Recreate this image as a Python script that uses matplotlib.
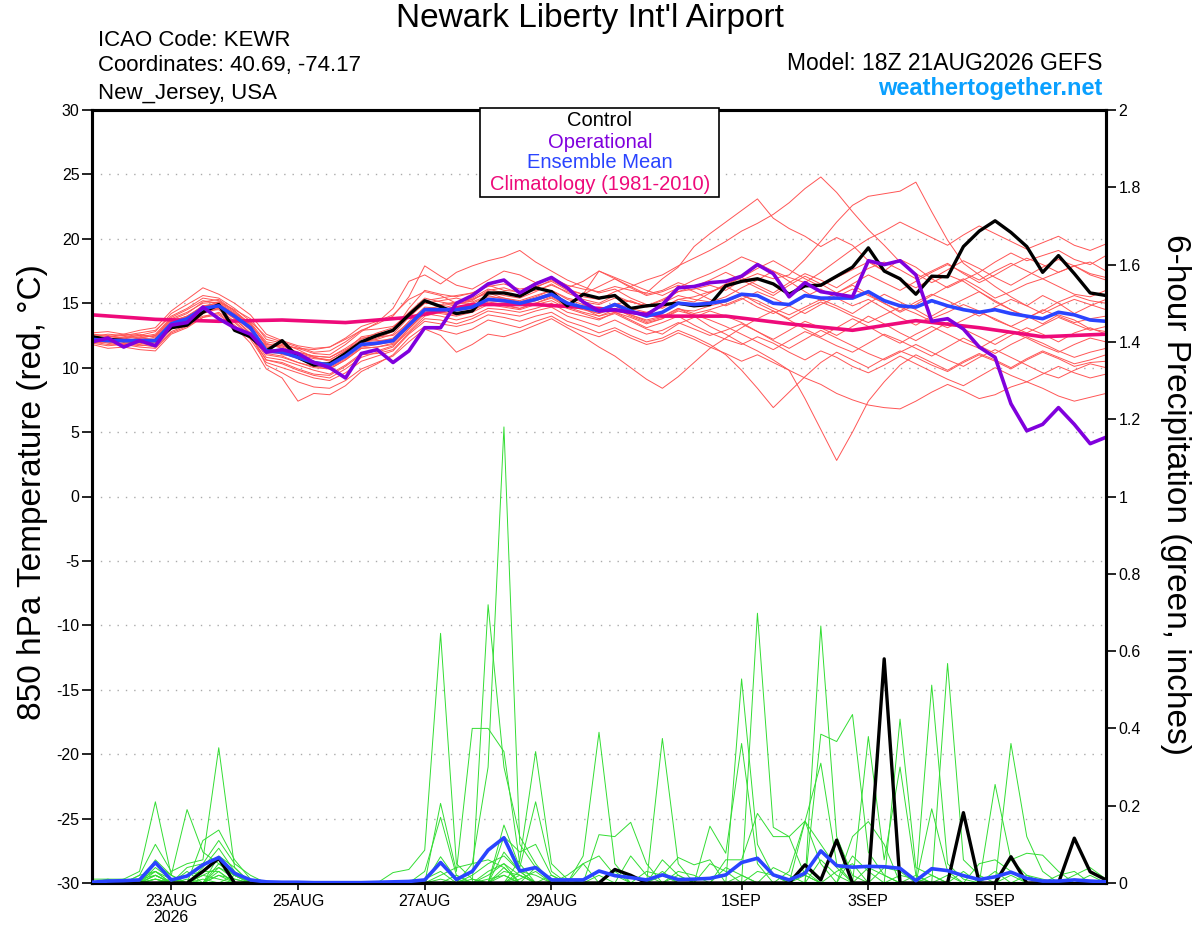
import numpy as np
import matplotlib
matplotlib.use("Agg")
import matplotlib.pyplot as plt
from matplotlib.patches import Rectangle

plt.rcParams['font.family'] = ['Liberation Sans', 'DejaVu Sans']
plt.rcParams['axes.unicode_minus'] = False

# ===============================
# Data (6-hourly, 18Z 21AUG2026 + 0..384 h)
# ===============================

N_STEPS = 65
hours = np.arange(N_STEPS) * 6

tick_hours = [30, 78, 126, 174, 246, 294, 342]
tick_labels = ["23AUG\n2026", "25AUG", "27AUG", "29AUG", "1SEP", "3SEP", "5SEP"]

control_temp = [
    12.4, 12.2, 12.1, 12.1, 12.1, 13.1, 13.3, 14.3, 14.9, 12.9,
    12.4, 11.3, 12.1, 10.8, 10.2, 10.3, 11.1, 12.0, 12.5, 12.9,
    14.1, 15.2, 14.75, 14.2, 14.4, 15.8, 15.8, 15.55, 16.2, 15.9,
    14.8, 15.7, 15.4, 15.6, 14.6, 14.8, 14.9, 15.0, 14.8, 14.9,
    16.35, 16.7, 16.9, 16.5, 15.7, 16.35, 16.4, 17.1, 17.8, 19.3,
    17.5, 16.9, 15.7, 17.1, 17.05, 19.4, 20.6, 21.4, 20.5, 19.4,
    17.4, 18.7, 17.3, 15.8, 15.6,
]

operational_temp = [
    12.0, 12.3, 11.6, 12.1, 11.7, 13.3, 13.5, 14.7, 13.8, 13.1,
    12.6, 11.2, 11.4, 11.1, 10.4, 10.0, 9.2, 11.1, 11.4, 10.4,
    11.3, 13.1, 13.1, 15.0, 15.6, 16.5, 16.8, 15.8, 16.5, 17.0,
    16.2, 15.1, 14.4, 14.5, 14.3, 14.1, 14.9, 16.2, 16.3, 16.6,
    16.7, 17.1, 18.0, 17.3, 15.5, 16.6, 15.9, 15.7, 15.5, 18.3,
    18.0, 18.3, 17.2, 13.6, 13.8, 13.0, 11.6, 10.8, 7.2, 5.1,
    5.6, 6.9, 5.6, 4.1, 4.6,
]

mean_temp = [
    12.2, 12.1, 12.1, 12.1, 12.1, 13.4, 13.8, 14.6, 14.8, 14.0,
    13.1, 11.3, 11.2, 10.8, 10.4, 10.2, 10.9, 11.8, 11.9, 12.1,
    13.3, 14.5, 14.5, 14.5, 14.7, 15.3, 15.2, 15.0, 15.3, 15.7,
    15.0, 14.7, 14.4, 14.9, 14.4, 14.0, 14.3, 15.0, 14.9, 15.0,
    15.2, 15.7, 15.6, 15.0, 14.9, 15.6, 15.4, 15.4, 15.4, 15.9,
    15.2, 14.8, 14.7, 15.2, 14.8, 14.5, 14.3, 14.5, 14.2, 14.0,
    13.8, 14.3, 14.1, 13.7, 13.6,
]

# daily climatology (every 24 h)
clim_temp = [14.1, 13.75, 13.6, 13.7, 13.5, 13.9, 14.9, 14.9, 14.6,
             14.0, 14.0, 13.4, 12.9, 13.65, 13.1, 12.4, 12.6]

member_temps = [
    [12.4, 12.2, 12.0, 12.3, 12.5, 13.7, 14.2, 15.1, 15.3, 14.4,
     13.3, 11.9, 11.5, 11.0, 10.7, 10.6, 11.3, 12.2, 12.7, 13.1,
     14.3, 15.4, 15.1, 14.9, 15.2, 16.0, 16.2, 15.8, 16.0, 16.4,
     15.9, 15.5, 15.3, 15.9, 16.3, 16.8, 17.2, 17.9, 18.5, 19.1,
     19.8, 20.6, 21.2, 21.9, 22.8, 23.9, 24.8, 23.6, 22.1, 20.7,
     19.5, 18.2, 17.3, 16.6, 17.2, 16.7, 15.9, 15.1, 14.5, 14.0,
     13.4, 14.1, 13.7, 13.0, 12.8],
    [12.0, 11.8, 11.9, 12.0, 11.9, 13.1, 13.5, 14.3, 14.7, 14.1,
     13.4, 11.8, 11.7, 11.2, 10.9, 10.8, 11.4, 12.0, 12.2, 12.6,
     13.9, 15.0, 14.9, 15.1, 15.3, 15.9, 15.6, 15.4, 15.9, 16.5,
     15.8, 15.3, 15.0, 15.6, 15.1, 14.8, 15.2, 15.9, 16.1, 16.4,
     16.0, 16.8, 17.3, 16.9, 17.2, 18.4, 19.8, 21.3, 22.6, 23.3,
     23.5, 23.7, 24.4, 22.1, 19.9, 18.1, 17.2, 16.3, 15.5, 14.8,
     15.6, 15.0, 14.2, 14.8, 15.3],
    [12.6, 12.5, 12.3, 12.4, 12.6, 13.9, 14.5, 15.2, 15.0, 14.2,
     12.9, 11.6, 11.0, 10.9, 10.3, 10.1, 10.8, 11.9, 12.3, 12.8,
     14.6, 16.0, 15.7, 15.5, 15.8, 16.4, 16.0, 15.9, 16.6, 17.0,
     16.4, 16.1, 15.9, 16.3, 16.0, 15.8, 16.9, 17.8, 19.4, 20.4,
     21.3, 22.2, 23.1, 21.6, 20.8, 20.2, 19.4, 20.1, 19.5, 18.3,
     17.5, 18.4, 17.8, 16.9, 16.2, 16.8, 17.4, 18.2, 18.9, 18.3,
     18.7, 19.1, 18.4, 18.0, 18.7],
    [12.3, 12.4, 12.6, 12.5, 12.8, 14.2, 14.9, 15.6, 15.4, 14.6,
     13.6, 12.4, 12.0, 11.6, 11.2, 11.3, 12.0, 12.9, 13.4, 14.0,
     15.5, 17.9, 17.1, 16.4, 16.1, 16.8, 17.5, 17.2, 16.6, 16.9,
     16.2, 16.7, 17.5, 17.0, 16.5, 16.0, 15.6, 16.2, 16.8, 17.3,
     17.9, 18.6, 18.1, 17.5, 17.0, 16.6, 17.4, 18.3, 19.2, 20.0,
     20.6, 21.3, 20.7, 20.1, 19.5, 20.3, 21.0, 20.4, 19.8, 19.2,
     19.7, 20.2, 19.5, 19.1, 19.6],
    [12.1, 12.3, 12.2, 12.0, 12.2, 13.5, 14.0, 14.8, 14.9, 14.2,
     13.5, 12.0, 11.8, 11.5, 11.1, 11.0, 11.8, 12.8, 13.5, 14.6,
     16.7, 17.2, 16.5, 17.4, 17.9, 18.3, 18.6, 19.1, 18.2, 17.5,
     16.8, 16.3, 15.8, 16.1, 15.4, 14.9, 14.6, 15.3, 15.1, 15.8,
     16.5, 17.0, 16.4, 15.8, 16.6, 17.3, 16.8, 16.2, 17.0, 17.7,
     18.2, 17.6, 16.9, 17.5, 18.1, 17.3, 16.6, 17.2, 17.9, 18.5,
     18.0, 17.4, 17.9, 18.2, 17.5],
    [12.2, 11.9, 11.7, 11.8, 11.6, 12.8, 13.3, 14.2, 14.6, 13.8,
     12.7, 10.8, 10.6, 10.2, 9.8, 9.5, 10.2, 11.1, 11.3, 11.7,
     12.8, 14.0, 14.3, 14.1, 14.4, 15.1, 14.9, 14.6, 15.0, 15.5,
     14.8, 14.5, 14.2, 14.9, 15.2, 14.7, 15.0, 15.6, 15.3, 15.1,
     15.5, 16.2, 16.8, 17.5, 16.7, 15.9, 15.2, 15.8, 16.4, 15.7,
     15.0, 14.3, 14.9, 15.6, 16.3, 16.9, 16.2, 15.4, 15.9, 16.5,
     16.9, 16.3, 15.7, 15.5, 16.0],
    [12.5, 12.2, 12.4, 12.6, 12.3, 13.6, 14.0, 14.7, 15.1, 14.5,
     13.8, 12.2, 11.9, 11.4, 10.8, 10.5, 11.0, 11.8, 12.0, 12.3,
     13.6, 14.7, 14.6, 14.9, 15.3, 15.8, 15.4, 15.1, 15.5, 16.0,
     15.3, 14.9, 14.3, 14.8, 14.1, 13.6, 13.9, 14.6, 14.2, 14.5,
     14.9, 15.4, 14.7, 14.2, 14.8, 15.5, 16.1, 15.4, 14.8, 15.3,
     14.6, 13.9, 13.3, 14.0, 14.7, 15.3, 15.9, 15.2, 14.5, 13.9,
     14.4, 15.1, 15.6, 15.2, 15.0],
    [11.9, 11.7, 11.8, 11.9, 11.7, 13.0, 13.6, 14.4, 14.5, 13.6,
     12.5, 10.6, 10.3, 9.8, 9.4, 9.2, 9.9, 10.8, 11.2, 11.6,
     13.0, 14.2, 14.0, 13.7, 14.0, 14.6, 14.5, 14.3, 14.6, 15.0,
     14.3, 14.0, 13.7, 14.3, 13.9, 13.4, 13.8, 14.5, 14.4, 14.8,
     15.1, 15.6, 15.2, 14.6, 14.1, 14.7, 15.3, 14.8, 14.2, 15.0,
     15.7, 15.1, 14.5, 13.8, 14.3, 14.9, 14.4, 13.7, 13.2, 13.8,
     14.5, 14.0, 13.5, 13.8, 14.0],
    [12.0, 12.1, 12.3, 12.1, 11.8, 13.2, 13.7, 14.5, 14.9, 14.0,
     13.0, 11.1, 10.9, 10.4, 10.0, 9.9, 10.6, 11.5, 11.6, 11.9,
     13.2, 14.4, 14.2, 14.0, 14.3, 14.9, 14.7, 14.5, 14.9, 15.2,
     14.6, 14.2, 13.8, 14.2, 13.6, 13.0, 12.6, 13.4, 13.9, 14.4,
     14.0, 13.5, 12.8, 12.2, 12.9, 13.6, 13.1, 12.5, 13.2, 14.0,
     13.4, 12.7, 12.1, 12.8, 13.5, 13.0, 12.4, 11.8, 12.5, 13.1,
     12.6, 12.0, 12.7, 13.1, 12.6],
    [12.4, 12.6, 12.5, 12.3, 12.5, 13.8, 14.3, 15.0, 15.1, 14.3,
     13.2, 11.4, 11.3, 10.9, 10.5, 10.3, 11.1, 12.0, 12.1, 12.2,
     13.4, 14.6, 14.6, 14.4, 14.6, 15.2, 15.1, 14.9, 15.2, 15.6,
     14.9, 14.6, 14.2, 14.6, 14.0, 13.5, 13.8, 14.4, 14.1, 13.7,
     13.2, 12.6, 12.0, 11.4, 12.1, 12.8, 12.3, 11.7, 11.2, 11.9,
     12.6, 12.1, 11.5, 10.9, 11.6, 12.3, 11.7, 11.1, 11.8, 12.4,
     11.9, 11.3, 10.8, 11.2, 11.5],
    [12.2, 12.0, 11.9, 11.7, 11.8, 13.0, 13.4, 14.0, 14.2, 13.3,
     12.2, 10.4, 10.0, 9.6, 9.2, 9.0, 9.6, 10.5, 10.9, 11.3,
     12.6, 13.6, 13.4, 13.2, 13.5, 14.1, 13.9, 13.6, 14.0, 14.3,
     13.6, 13.2, 12.7, 13.1, 12.5, 12.0, 12.3, 12.9, 12.4, 11.8,
     11.0, 9.8, 8.4, 6.9, 8.1, 9.3, 10.4, 11.2, 10.6, 10.0,
     10.7, 11.3, 10.8, 10.2, 9.7, 10.4, 11.0, 10.5, 9.9, 10.6,
     11.2, 10.7, 10.1, 10.4, 10.5],
    [12.7, 12.8, 12.6, 12.9, 13.1, 14.4, 15.3, 16.2, 15.7, 15.0,
     14.1, 12.6, 12.1, 11.7, 11.5, 11.6, 12.2, 12.9, 13.0, 13.2,
     14.1, 15.0, 15.2, 15.4, 15.1, 15.6, 15.3, 15.0, 15.4, 15.8,
     15.1, 14.6, 14.0, 14.3, 13.7, 13.1, 13.5, 14.0, 13.3, 12.7,
     12.2, 11.8, 12.4, 11.9, 11.2, 10.6, 11.3, 10.8, 10.1, 9.6,
     10.2, 10.9, 10.3, 9.7, 9.1, 8.6, 9.3, 10.0, 9.4, 8.9,
     9.5, 10.1, 9.6, 9.2, 9.5],
    [11.8, 11.5, 11.6, 11.4, 11.3, 12.6, 13.1, 13.9, 14.1, 13.2,
     11.9, 9.9, 9.2, 7.4, 8.0, 7.9, 8.6, 9.7, 10.3, 11.0,
     12.3, 13.2, 12.9, 12.6, 13.0, 13.7, 13.4, 13.1, 13.6, 14.0,
     13.3, 12.8, 12.4, 12.9, 12.3, 11.8, 12.1, 12.7, 12.2, 11.6,
     11.1, 10.5, 11.0, 10.4, 9.8, 9.2, 8.7, 8.0, 7.5, 7.1,
     6.9, 6.8, 7.4, 8.1, 8.7, 8.2, 7.6, 7.9, 8.5, 8.9,
     8.4, 7.8, 7.4, 7.7, 8.0],
    [12.1, 12.2, 12.0, 12.2, 12.1, 13.3, 13.9, 14.8, 15.0, 14.1,
     13.1, 11.2, 11.1, 10.7, 10.2, 10.0, 10.7, 11.6, 11.8, 12.0,
     13.1, 14.3, 14.5, 14.6, 14.8, 15.3, 15.1, 14.9, 15.2, 15.6,
     15.0, 14.7, 14.5, 15.0, 14.6, 14.3, 14.7, 15.3, 15.5, 15.9,
     16.3, 15.7, 15.0, 14.4, 13.8, 14.5, 15.1, 14.6, 14.0, 13.5,
     14.1, 14.7, 14.2, 13.6, 13.1, 13.7, 14.3, 13.8, 13.2, 12.7,
     13.3, 13.9, 13.4, 12.9, 13.2],
    [12.2, 12.4, 12.3, 12.5, 12.4, 13.6, 14.0, 14.6, 14.8, 14.0,
     13.0, 11.3, 11.4, 11.2, 10.9, 10.8, 11.5, 12.3, 12.4, 12.5,
     13.5, 14.5, 14.8, 15.0, 15.0, 15.5, 15.4, 15.2, 15.6, 16.0,
     15.4, 15.1, 14.9, 15.4, 15.1, 14.8, 15.3, 15.9, 16.3, 16.8,
     17.4, 16.8, 16.2, 15.6, 16.4, 17.1, 16.5, 15.8, 16.5, 17.2,
     16.6, 16.0, 16.7, 17.4, 18.0, 17.4, 16.8, 17.5, 18.1, 17.5,
     16.9, 17.4, 17.9, 17.2, 16.8],
    [12.3, 12.1, 12.2, 12.0, 12.1, 13.4, 13.7, 14.4, 14.6, 13.9,
     12.9, 11.0, 10.8, 10.4, 10.1, 9.9, 10.6, 11.5, 11.6, 11.8,
     13.0, 14.2, 14.3, 14.2, 14.5, 15.0, 14.8, 14.6, 15.0, 15.4,
     14.7, 14.3, 14.0, 14.5, 14.1, 13.7, 14.0, 14.6, 14.0, 13.2,
     12.6, 11.9, 11.3, 10.6, 9.8, 7.6, 5.2, 2.8, 5.0, 7.4,
     8.9, 10.2, 11.0, 10.4, 9.8, 10.5, 11.1, 10.6, 10.0, 10.7,
     11.3, 10.8, 10.3, 10.6, 11.0],
    [11.9, 12.0, 11.8, 11.6, 11.5, 12.7, 13.2, 13.9, 14.3, 13.5,
     12.4, 10.6, 10.4, 9.9, 9.5, 9.4, 10.1, 11.0, 11.1, 11.4,
     12.7, 13.8, 13.7, 13.4, 13.8, 14.4, 14.2, 14.0, 14.4, 14.7,
     14.0, 13.6, 13.2, 13.7, 13.1, 12.6, 12.9, 13.5, 13.0, 12.5,
     12.9, 13.4, 12.8, 12.1, 11.5, 12.2, 12.9, 12.3, 11.7, 11.1,
     10.6, 11.2, 11.8, 11.2, 10.6, 10.1, 10.8, 11.4, 10.8, 10.2,
     9.6, 9.2, 9.8, 10.3, 10.0],
    [12.6, 12.4, 12.5, 12.7, 12.9, 14.0, 14.6, 15.4, 15.2, 14.4,
     13.4, 11.7, 11.6, 11.1, 10.8, 10.6, 11.3, 12.4, 12.6, 12.9,
     14.0, 15.2, 15.4, 15.6, 15.8, 16.3, 16.5, 16.1, 16.3, 16.7,
     16.0, 15.7, 16.3, 16.9, 16.2, 15.6, 15.9, 16.4, 15.9, 15.3,
     14.8, 15.3, 15.9, 15.4, 14.8, 14.2, 14.9, 15.5, 16.1, 15.6,
     15.0, 14.4, 15.1, 15.7, 15.2, 14.6, 14.0, 14.7, 15.3, 14.8,
     14.2, 14.8, 15.3, 14.9, 14.5],
    [12.0, 12.2, 12.1, 12.3, 12.2, 13.3, 13.6, 14.5, 14.7, 13.9,
     13.1, 11.6, 11.7, 11.5, 11.4, 11.6, 12.3, 13.2, 13.6, 14.1,
     15.3, 15.9, 15.6, 15.0, 15.4, 16.1, 15.8, 15.5, 16.2, 16.8,
     16.1, 15.7, 17.5, 16.9, 16.3, 15.7, 16.0, 16.6, 16.2, 15.8,
     16.4, 17.0, 17.7, 18.3, 17.6, 16.9, 16.3, 17.0, 17.6, 18.2,
     17.5, 16.8, 16.2, 16.9, 17.6, 18.3, 17.7, 17.0, 16.4, 17.1,
     17.8, 18.4, 17.9, 17.3, 17.0],
    [12.4, 12.3, 12.1, 12.0, 12.2, 13.5, 13.9, 14.6, 14.7, 13.8,
     12.6, 10.2, 9.6, 8.9, 8.5, 8.4, 9.0, 9.9, 10.4, 10.9,
     12.0, 13.0, 12.5, 11.2, 11.8, 12.6, 12.4, 12.8, 13.3, 13.8,
     13.1, 12.4, 11.6, 10.9, 10.0, 9.1, 8.4, 9.3, 10.4, 11.5,
     12.3, 13.1, 13.8, 14.4, 13.7, 13.0, 12.4, 13.1, 13.8, 13.2,
     12.5, 11.9, 12.6, 13.2, 12.6, 12.0, 11.5, 12.2, 12.8, 12.3,
     11.7, 11.2, 11.8, 12.3, 12.0],
]

# 6-hour precipitation (inches): control and ensemble mean
control_precip = [
    0, 0, 0, 0, 0, 0, 0, 0.03, 0.064, 0,
    0, 0, 0, 0, 0, 0, 0, 0, 0, 0,
    0, 0, 0, 0, 0, 0, 0, 0, 0, 0,
    0, 0, 0, 0.035, 0.02, 0, 0, 0, 0, 0,
    0, 0, 0, 0, 0, 0.047, 0.008, 0.111, 0, 0,
    0.58, 0, 0, 0, 0, 0.182, 0, 0, 0.068, 0,
    0, 0, 0.116, 0.029, 0.008,
]

mean_precip = [
    0.002, 0.005, 0.006, 0.008, 0.053, 0.008, 0.018, 0.047, 0.066, 0.025,
    0.008, 0.003, 0.002, 0.002, 0.001, 0.001, 0.001, 0.001, 0.002, 0.003,
    0.004, 0.008, 0.053, 0.009, 0.03, 0.085, 0.117, 0.031, 0.04, 0.008,
    0.008, 0.008, 0.031, 0.019, 0.014, 0.008, 0.021, 0.009, 0.01, 0.012,
    0.021, 0.053, 0.064, 0.021, 0.008, 0.025, 0.083, 0.045, 0.041, 0.043,
    0.042, 0.038, 0.006, 0.037, 0.032, 0.019, 0.009, 0.016, 0.028, 0.012,
    0.005, 0.005, 0.008, 0.005, 0.003,
]

# ensemble members: {step: inches}, all other steps are 0
member_precip_events = [
    {2: 0.01, 3: 0.03, 4: 0.21, 5: 0.02, 19: 0.027, 20: 0.035, 21: 0.085,
     22: 0.646, 23: 0.05, 24: 0.01, 36: 0.06, 37: 0.02, 41: 0.528, 42: 0.1,
     43: 0.02, 53: 0.512, 54: 0.05, 55: 0.01},
    {3: 0.02, 4: 0.1, 5: 0.03, 6: 0.05, 7: 0.06, 8: 0.35, 9: 0.04, 24: 0.05,
     25: 0.3, 26: 1.18, 27: 0.1, 28: 0.04, 46: 0.665, 47: 0.12, 48: 0.02,
     58: 0.361, 59: 0.12, 60: 0.03},
    {4: 0.06, 5: 0.02, 6: 0.19, 7: 0.08, 8: 0.05, 9: 0.02, 22: 0.206,
     23: 0.03, 24: 0.40, 25: 0.40, 26: 0.34, 27: 0.05, 42: 0.698, 43: 0.144,
     44: 0.12, 45: 0.02, 57: 0.255, 58: 0.06, 59: 0.02},
    {4: 0.04, 5: 0.01, 7: 0.11, 8: 0.137, 9: 0.06, 10: 0.01, 21: 0.03,
     22: 0.17, 23: 0.02, 25: 0.72, 26: 0.3, 27: 0.12, 28: 0.05, 36: 0.374,
     37: 0.05, 51: 0.424, 52: 0.04, 53: 0.02},
    {3: 0.01, 4: 0.03, 6: 0.04, 7: 0.05, 8: 0.11, 9: 0.05, 10: 0.02,
     22: 0.068, 23: 0.01, 27: 0.06, 28: 0.34, 29: 0.05, 30: 0.01, 46: 0.385,
     47: 0.366, 48: 0.436, 49: 0.08, 50: 0.02},
    {4: 0.02, 7: 0.04, 8: 0.09, 9: 0.03, 26: 0.15, 27: 0.04, 28: 0.21,
     29: 0.03, 31: 0.07, 32: 0.39, 33: 0.05, 54: 0.568, 55: 0.06, 56: 0.02},
    {1: 0.01, 2: 0.01, 4: 0.05, 5: 0.02, 8: 0.07, 9: 0.04, 26: 0.12,
     27: 0.08, 28: 0.1, 29: 0.02, 32: 0.125, 33: 0.12, 34: 0.157, 35: 0.05,
     49: 0.379, 50: 0.06, 51: 0.30, 52: 0.02},
    {4: 0.02, 6: 0.03, 8: 0.05, 9: 0.02, 26: 0.08, 27: 0.03, 31: 0.05,
     32: 0.07, 33: 0.02, 39: 0.147, 40: 0.077, 41: 0.361, 42: 0.05,
     45: 0.159, 46: 0.31, 47: 0.05},
    {5: 0.01, 7: 0.03, 8: 0.06, 9: 0.02, 22: 0.02, 23: 0.04, 24: 0.05,
     25: 0.06, 26: 0.04, 40: 0.06, 41: 0.06, 42: 0.18, 43: 0.12, 44: 0.12,
     45: 0.16, 46: 0.1, 47: 0.04, 53: 0.192, 54: 0.03},
    {4: 0.01, 7: 0.02, 8: 0.04, 9: 0.01, 24: 0.02, 25: 0.05, 26: 0.07,
     27: 0.03, 29: 0.02, 36: 0.02, 37: 0.066, 38: 0.047, 39: 0.06, 48: 0.12,
     49: 0.159, 50: 0.1, 58: 0.06, 59: 0.077, 60: 0.072, 61: 0.03},
    {6: 0.02, 7: 0.03, 8: 0.03, 25: 0.03, 26: 0.05, 27: 0.02, 30: 0.02,
     31: 0.05, 35: 0.03, 36: 0.02, 44: 0.03, 45: 0.16, 46: 0.05, 48: 0.07,
     49: 0.03, 56: 0.05, 57: 0.06, 58: 0.03},
    {4: 0.01, 8: 0.02, 9: 0.01, 22: 0.01, 26: 0.03, 27: 0.02, 34: 0.07,
     35: 0.02, 37: 0.03, 38: 0.02, 42: 0.03, 43: 0.02, 50: 0.04, 51: 0.03,
     62: 0.02, 63: 0.04, 64: 0.01},
    {3: 0.02, 4: 0.03, 9: 0.02, 23: 0.02, 27: 0.03, 28: 0.02, 39: 0.05,
     40: 0.03, 46: 0.06, 47: 0.02, 55: 0.03},
    {4: 0.01, 8: 0.03, 26: 0.02, 33: 0.03, 41: 0.02, 45: 0.03, 59: 0.02,
     60: 0.01},
    {0: 0.01, 1: 0.01, 4: 0.02, 7: 0.01, 24: 0.01, 27: 0.02, 43: 0.04,
     44: 0.02, 52: 0.02, 63: 0.02},
    {7: 0.02, 8: 0.01, 25: 0.02, 26: 0.05, 30: 0.01, 36: 0.03, 49: 0.04,
     50: 0.02, 57: 0.03},
    {4: 0.03, 5: 0.01, 21: 0.01, 22: 0.03, 28: 0.04, 29: 0.01, 47: 0.03,
     48: 0.05, 54: 0.02},
    {6: 0.01, 8: 0.02, 26: 0.04, 32: 0.02, 40: 0.04, 41: 0.02, 61: 0.02,
     62: 0.03},
    {3: 0.01, 4: 0.02, 27: 0.01, 28: 0.03, 45: 0.02, 53: 0.02, 58: 0.02},
    {8: 0.04, 9: 0.02, 25: 0.01, 26: 0.02, 37: 0.02, 51: 0.02, 52: 0.01},
]


def events_to_series(events):
    vals = np.zeros(N_STEPS)
    for step, amount in events.items():
        vals[step] = amount
    return vals


# ===============================
# Plot
# ===============================

RED = "#ff5555"
GREEN = "#33dd33"
BLUE = "#2a44ff"
PURPLE = "#8000dd"
MAGENTA = "#ee0a7a"

fig = plt.figure(figsize=(12, 9.27), dpi=100)
ax = fig.add_axes([92 / 1200, 44 / 927, 1014 / 1200, 773 / 927])
ax2 = ax.twinx()

ax.set_xlim(0, 384)
ax.set_ylim(-30, 30)
ax2.set_ylim(0, 2)

# grid (dotted, left-axis ticks only)
for yv in range(-25, 30, 5):
    ax.axhline(yv, color="#aaaaaa", lw=1.0, ls=(0, (1, 5)), zorder=0)

# ensemble members (temperature)
for mt in member_temps:
    ax.plot(hours, mt, color=RED, lw=0.7, zorder=1)

ax.plot(hours[::4], clim_temp, color=MAGENTA, lw=2.6, zorder=3)
ax.plot(hours, control_temp, color="black", lw=2.4, zorder=4)
ax.plot(hours, mean_temp, color=BLUE, lw=2.6, zorder=5)
ax.plot(hours, operational_temp, color=PURPLE, lw=2.6, zorder=6)

# precipitation on right axis
for ev in member_precip_events:
    ax2.plot(hours, events_to_series(ev), color=GREEN, lw=0.7, zorder=1)
ax2.plot(hours, control_precip, color="black", lw=2.4, zorder=4)
ax2.plot(hours, mean_precip, color=BLUE, lw=2.6, zorder=5)

# axes styling
for a in (ax, ax2):
    for sp in a.spines.values():
        sp.set_linewidth(2.2)
    a.set_xlim(0, 384)

left_ticks = list(range(-30, 31, 5))
ax.set_yticks(left_ticks)
ax.set_yticklabels([str(v) for v in left_ticks])
ax.tick_params(axis="y", direction="out", length=7, width=1.2, labelsize=11.5, pad=2)
right_ticks = np.arange(0, 2.01, 0.2)
ax2.set_yticks(right_ticks)
ax2.set_yticklabels([f"{v:g}" for v in right_ticks])
ax2.tick_params(axis="y", direction="out", length=7, width=1.2, labelsize=11.5, pad=2)

ax.set_xticks(tick_hours)
ax.set_xticklabels(tick_labels, fontsize=11.5, linespacing=1.05)
ax.tick_params(axis="x", direction="out", length=5, width=1.2, pad=3)

# axis titles
fig.text(33 / 1200, 1 - 492 / 927, "850 hPa Temperature (red, °C)",
         rotation=90, ha="center", va="center", fontsize=24)
fig.text(1176 / 1200, 1 - 495 / 927, "6-hour Precipitation (green, inches)",
         rotation=270, ha="center", va="center", fontsize=24)

# header texts
fig.text(590 / 1200, 1 - 18 / 927, "Newark Liberty Int'l Airport",
         ha="center", va="center", fontsize=24)
fig.text(98 / 1200, 1 - 40 / 927, "ICAO Code: KEWR", ha="left", va="center", fontsize=16)
fig.text(98 / 1200, 1 - 66 / 927, "Coordinates: 40.69, -74.17", ha="left", va="center", fontsize=16)
fig.text(98 / 1200, 1 - 93 / 927, "New_Jersey, USA", ha="left", va="center", fontsize=16)
fig.text(1102 / 1200, 1 - 63 / 927, "Model: 18Z 21AUG2026 GEFS", ha="right", va="center", fontsize=16.5)
fig.text(1102 / 1200, 1 - 89 / 927, "weathertogether.net", ha="right", va="center",
         fontsize=17, fontweight="bold", color="#0aa0ff")

# legend box
box = Rectangle((480 / 1200, 1 - 197 / 927), 239 / 1200, 89 / 927,
                transform=fig.transFigure, facecolor="white", edgecolor="black",
                lw=1.2, zorder=10)
fig.patches.append(box)
legend_items = [("Control", "black", 121), ("Operational", PURPLE, 142),
                ("Ensemble Mean", BLUE, 163), ("Climatology (1981-2010)", MAGENTA, 185)]
for label, col, ypix in legend_items:
    fig.text(600 / 1200, 1 - ypix / 927, label, ha="center", va="center",
             fontsize=14.5, color=col, zorder=11)

fig.savefig("out.png", dpi=100)
